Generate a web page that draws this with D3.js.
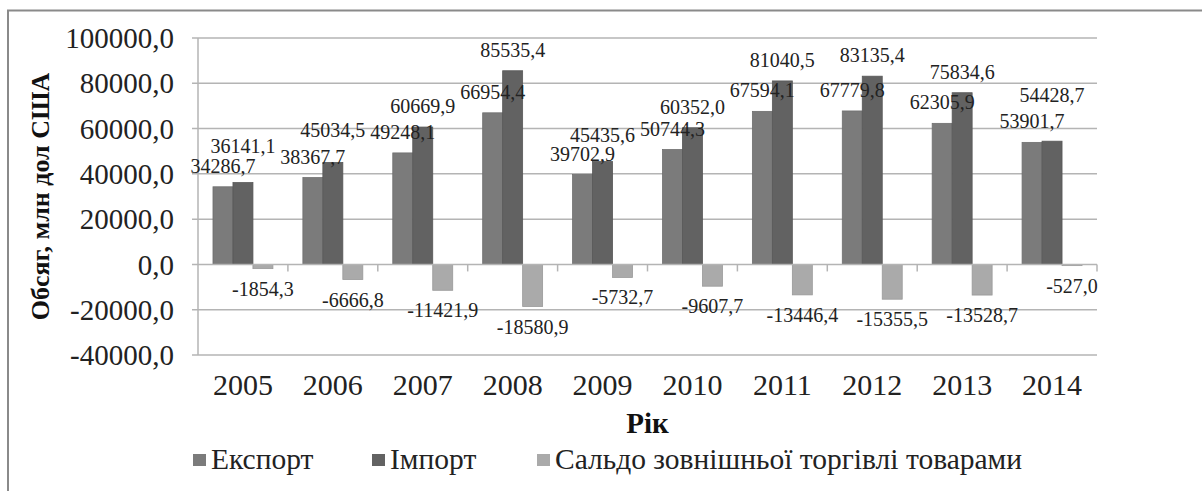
<!DOCTYPE html>
<html>
<head>
<meta charset="utf-8">
<script src="https://cdn.jsdelivr.net/npm/d3@7"></script>
<style>
  body { margin: 0; background: #fff; }
</style>
</head>
<body>
<script>
  const years = ['2005', '2006', '2007', '2008', '2009', '2010', '2011', '2012', '2013', '2014'];
  const exportValues = [34286.7, 38367.7, 49248.1, 66954.4, 39702.9, 50744.3, 67594.1, 67779.8, 62305.9, 53901.7];
  const importValues = [36141.1, 45034.5, 60669.9, 85535.4, 45435.6, 60352.0, 81040.5, 83135.4, 75834.6, 54428.7];
  const saldoValues = [-1854.3, -6666.8, -11421.9, -18580.9, -5732.7, -9607.7, -13446.4, -15355.5, -13528.7, -527.0];
  const seriesNames = ['Експорт', 'Імпорт', 'Сальдо зовнішньої торгівлі товарами'];
  const yTicks = [-40000, -20000, 0, 20000, 40000, 60000, 80000, 100000];

  const colors = ['#7b7b7b', '#626262', '#aaaaaa'];
  const width = 1202;
  const height = 491;
  const margin = { top: 38, right: 105, bottom: 136, left: 198 };
  const font = 'Liberation Serif';

  const svg = d3.select('body')
    .append('svg')
    .attr('width', width)
    .attr('height', height)
    .style('display', 'block');

  // outer frame (only top and left edges are visible in the picture)
  svg.append('path')
    .attr('d', `M8,${height + 5} V10.5 H${width + 5}`)
    .attr('fill', 'none')
    .attr('stroke', '#8a8a8a')
    .attr('stroke-width', 2);

  const x = d3.scaleBand()
    .domain(years)
    .range([margin.left, width - margin.right])
    .padding(0);

  const y = d3.scaleLinear()
    .domain([-40000, 100000])
    .range([height - margin.bottom, margin.top]);

  const fmt = (v) => d3.format('.1f')(v).replace('.', ',').replace('−', '-');

  // gridlines
  svg.append('g')
    .selectAll('line')
    .data(yTicks.filter((d) => d !== 0))
    .join('line')
    .attr('x1', margin.left - 6)
    .attr('x2', width - margin.right)
    .attr('y1', (d) => y(d))
    .attr('y2', (d) => y(d))
    .attr('stroke', '#b4b4b4')
    .attr('stroke-width', 1.5);

  svg.append('g')
    .selectAll('text')
    .data(yTicks)
    .join('text')
    .attr('x', 174)
    .attr('y', (d) => y(d))
    .attr('dy', '0.35em')
    .attr('text-anchor', 'end')
    .attr('font-family', font)
    .attr('font-size', 29)
    .attr('fill', '#222')
    .text(fmt);

  // bars
  const bw = x.bandwidth() / 4.5;
  const off = (x.bandwidth() - 3 * bw) / 2;
  const series = [exportValues, importValues, saldoValues];

  series.forEach((vals, si) => {
    svg.append('g')
      .selectAll('rect')
      .data(vals)
      .join('rect')
      .attr('x', (d, i) => x(years[i]) + off + si * bw)
      .attr('y', (d) => y(Math.max(0, d)))
      .attr('width', bw)
      .attr('height', (d) => Math.abs(y(d) - y(0)))
      .attr('fill', colors[si])
      .attr('stroke', d3.color(colors[si]).darker(0.3))
      .attr('stroke-width', 0.8);
  });

  // axis lines
  svg.append('line')
    .attr('x1', margin.left - 6)
    .attr('x2', width - margin.right)
    .attr('y1', y(0))
    .attr('y2', y(0))
    .attr('stroke', '#b4b4b4')
    .attr('stroke-width', 1.5);

  svg.append('line')
    .attr('x1', margin.left)
    .attr('x2', margin.left)
    .attr('y1', y(100000))
    .attr('y2', y(-40000))
    .attr('stroke', '#b4b4b4')
    .attr('stroke-width', 1.5);

  svg.append('g')
    .selectAll('line')
    .data(years.map((d) => x(d)).concat([width - margin.right]).slice(1))
    .join('line')
    .attr('x1', (d) => d)
    .attr('x2', (d) => d)
    .attr('y1', y(0))
    .attr('y2', y(0) + 7)
    .attr('stroke', '#b4b4b4')
    .attr('stroke-width', 1.5);

  // data labels (some import labels were nudged up by hand in the original)
  const importLift = { 2005: 16, 2006: 11, 2009: 6, 2014: 25 };
  const labels = [];
  years.forEach((yr, i) => {
    labels.push({ v: exportValues[i], cx: x(yr) + off + bw / 2, by: y(exportValues[i]) - 14 });
    labels.push({ v: importValues[i], cx: x(yr) + off + 1.5 * bw, by: y(importValues[i]) - 14 - (importLift[yr] || 0) });
    labels.push({ v: saldoValues[i], cx: x(yr) + off + 2.5 * bw, by: y(saldoValues[i]) + 27 });
  });

  svg.append('g')
    .selectAll('text')
    .data(labels)
    .join('text')
    .attr('x', (d) => d.cx)
    .attr('y', (d) => d.by)
    .attr('text-anchor', 'middle')
    .attr('font-family', font)
    .attr('font-size', 20)
    .attr('fill', '#222')
    .text((d) => fmt(d.v));

  // category labels
  svg.append('g')
    .selectAll('text')
    .data(years)
    .join('text')
    .attr('x', (d) => x(d) + x.bandwidth() / 2)
    .attr('y', 395)
    .attr('text-anchor', 'middle')
    .attr('font-family', font)
    .attr('font-size', 30)
    .attr('fill', '#222')
    .text((d) => d);

  // axis titles
  svg.append('text')
    .attr('transform', `translate(49,${(y(100000) + y(-40000)) / 2}) rotate(-90)`)
    .attr('text-anchor', 'middle')
    .attr('font-family', font)
    .attr('font-size', 26)
    .attr('font-weight', 'bold')
    .attr('fill', '#111')
    .text('Обсяг, млн дол США');

  svg.append('text')
    .attr('x', (margin.left + width - margin.right) / 2)
    .attr('y', 433)
    .attr('text-anchor', 'middle')
    .attr('font-family', font)
    .attr('font-size', 29)
    .attr('font-weight', 'bold')
    .attr('fill', '#111')
    .text('Рік');

  // legend
  const legendX = [193, 372, 537];
  const legend = svg.append('g')
    .selectAll('g')
    .data(seriesNames)
    .join('g')
    .attr('transform', (d, i) => `translate(${legendX[i]},0)`);

  legend.append('rect')
    .attr('x', 0)
    .attr('y', 454)
    .attr('width', 13)
    .attr('height', 12)
    .attr('fill', (d, i) => colors[i]);

  legend.append('text')
    .attr('x', 18)
    .attr('y', 469)
    .attr('font-family', font)
    .attr('font-size', 29.5)
    .attr('fill', '#222')
    .text((d) => d);
</script>
</body>
</html>
